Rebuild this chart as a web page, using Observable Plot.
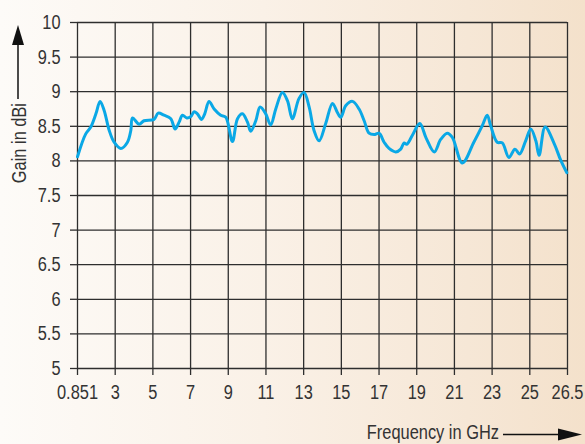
<!DOCTYPE html>
<html>
<head>
<meta charset="utf-8">
<script src="https://cdn.jsdelivr.net/npm/d3@7"></script>
<script src="https://cdn.jsdelivr.net/npm/@observablehq/plot@0.6"></script>
<style>
  html, body { margin: 0; padding: 0; }
  body {
    width: 585px; height: 444px; overflow: hidden;
    background: linear-gradient(to right, #fdfbf8 0%, #faf1e7 45%, #f6e7d6 80%, #f4e1cb 100%);
  }
  #chart svg { display: block; }
</style>
</head>
<body>
<div id="chart"></div>
<script>
// Frequency in GHz
const freq = [0.851, 1.32, 1.61, 1.90, 2.14, 2.37, 2.66, 2.94, 3.30, 3.65, 3.83, 3.92, 4.27, 4.53, 5.06, 5.28, 5.59, 5.95, 6.18, 6.39,
  6.57, 6.80, 7.01, 7.19, 7.36, 7.58, 7.75, 7.98, 8.25, 8.60, 8.87, 9.22, 9.49, 9.75, 10.02, 10.19, 10.46, 10.69, 10.99, 11.25,
  11.52, 11.87, 12.14, 12.40, 12.75, 13.02, 13.29, 13.55, 13.82, 14.17, 14.53, 14.79, 14.97, 15.24, 15.59, 15.94, 16.21, 16.47, 16.74, 17.00,
  17.27, 17.53, 17.89, 18.15, 18.33, 18.47, 18.77, 19.16, 19.50, 19.93, 20.27, 20.62, 20.89, 21.42, 22.03, 22.48, 22.74, 22.92, 23.27, 23.54,
  23.89, 24.21, 24.46, 24.78, 25.04, 25.24, 25.37, 25.61, 25.97, 26.23, 26.47];
// Gain in dBi
const gain = [8.06, 8.39, 8.49, 8.68, 8.86, 8.73, 8.44, 8.27, 8.18, 8.27, 8.44, 8.62, 8.53, 8.58, 8.60, 8.69, 8.66, 8.61, 8.46, 8.56,
  8.66, 8.62, 8.64, 8.71, 8.68, 8.60, 8.68, 8.86, 8.75, 8.66, 8.63, 8.28, 8.61, 8.68, 8.56, 8.43, 8.58, 8.78, 8.68, 8.52,
  8.75, 8.99, 8.87, 8.61, 8.90, 8.99, 8.78, 8.44, 8.29, 8.54, 8.83, 8.70, 8.63, 8.80, 8.86, 8.75, 8.58, 8.40, 8.38, 8.40,
  8.27, 8.18, 8.13, 8.17, 8.26, 8.24, 8.37, 8.54, 8.33, 8.13, 8.31, 8.40, 8.34, 7.97, 8.27, 8.51, 8.66, 8.51, 8.27, 8.26,
  8.05, 8.17, 8.10, 8.29, 8.46, 8.29, 8.08, 8.49, 8.25, 8.01, 7.83];

const freqTicks = [0.851, 3, 5, 7, 9, 11, 13, 15, 17, 19, 21, 23, 25, 26.5];
const gainTicks = [5, 5.5, 6, 6.5, 7, 7.5, 8, 8.5, 9, 9.5, 10];
const xLabel = "Frequency in GHz";
const yLabel = "Gain in dBi";

const data = freq.map((f, i) => ({f, g: gain[i]}));

const W = 585, H = 444;
const mL = 77, mR = 18, mT = 22, mB = 76;
// tick labels are evenly spaced: piecewise-linear x scale
const step = (W - mR - mL) / (freqTicks.length - 1);
const xDomain = [0.851, 3, 25, 26.5];
const xRange = [mL, mL + step, mL + 12 * step, mL + 13 * step];

const font = "'Liberation Sans', Arial, sans-serif";
const gridColor = "#2e2e2e";

const chart = Plot.plot({
  width: W, height: H,
  marginLeft: mL, marginRight: mR, marginTop: mT, marginBottom: mB,
  style: {background: "transparent", fontFamily: font, fontSize: "20px", color: "#333"},
  x: {type: "linear", domain: xDomain, range: xRange, label: null},
  y: {domain: [5, 10], label: null},
  marks: [
    Plot.gridX(freqTicks, {stroke: gridColor, strokeOpacity: 1, strokeWidth: 1.3}),
    Plot.gridY(gainTicks, {stroke: gridColor, strokeOpacity: 1, strokeWidth: 1.3}),
    Plot.axisX(freqTicks, {tickSize: 7, tickPadding: 9, stroke: gridColor, strokeWidth: 1.3, tickFormat: d => String(d), label: null, fontSize: 20}),
    Plot.axisY(gainTicks, {tickSize: 7, tickPadding: 10, stroke: gridColor, strokeWidth: 1.3, tickFormat: d => String(d), label: null, fontSize: 20}),
    Plot.line(data, {x: "f", y: "g", stroke: "#0aa8e6", strokeWidth: 3, curve: "catmull-rom", strokeLinejoin: "round", strokeLinecap: "round"})
  ]
});

document.getElementById("chart").append(chart);

// axis titles with arrows
const svg = d3.select(chart);
const g = svg.append("g").attr("fill", "#333").style("font-family", font).style("font-size", "20px");
g.append("text")
  .attr("transform", "translate(25.5,103) rotate(-90)")
  .attr("text-anchor", "end")
  .text(yLabel);
g.append("line").attr("x1", 18).attr("x2", 18).attr("y1", 99).attr("y2", 40)
  .attr("stroke", "#111").attr("stroke-width", 1.5);
g.append("path").attr("d", "M18,25 L12,45 L24,45 Z").attr("fill", "#111");

g.append("text")
  .attr("x", 499).attr("y", 439)
  .attr("text-anchor", "end")
  .text(xLabel);
g.append("line").attr("x1", 503).attr("x2", 562).attr("y1", 434.5).attr("y2", 434.5)
  .attr("stroke", "#111").attr("stroke-width", 1.5);
g.append("path").attr("d", "M582,434.5 L558,428.5 L558,440.5 Z").attr("fill", "#111");

// condensed lettering, as in the original (narrow typeface)
svg.selectAll("text").each(function () {
  const len = this.getComputedTextLength();
  if (len > 0) {
    this.setAttribute("textLength", (len * 0.82).toFixed(1));
    this.setAttribute("lengthAdjust", "spacingAndGlyphs");
  }
});
</script>
</body>
</html>
